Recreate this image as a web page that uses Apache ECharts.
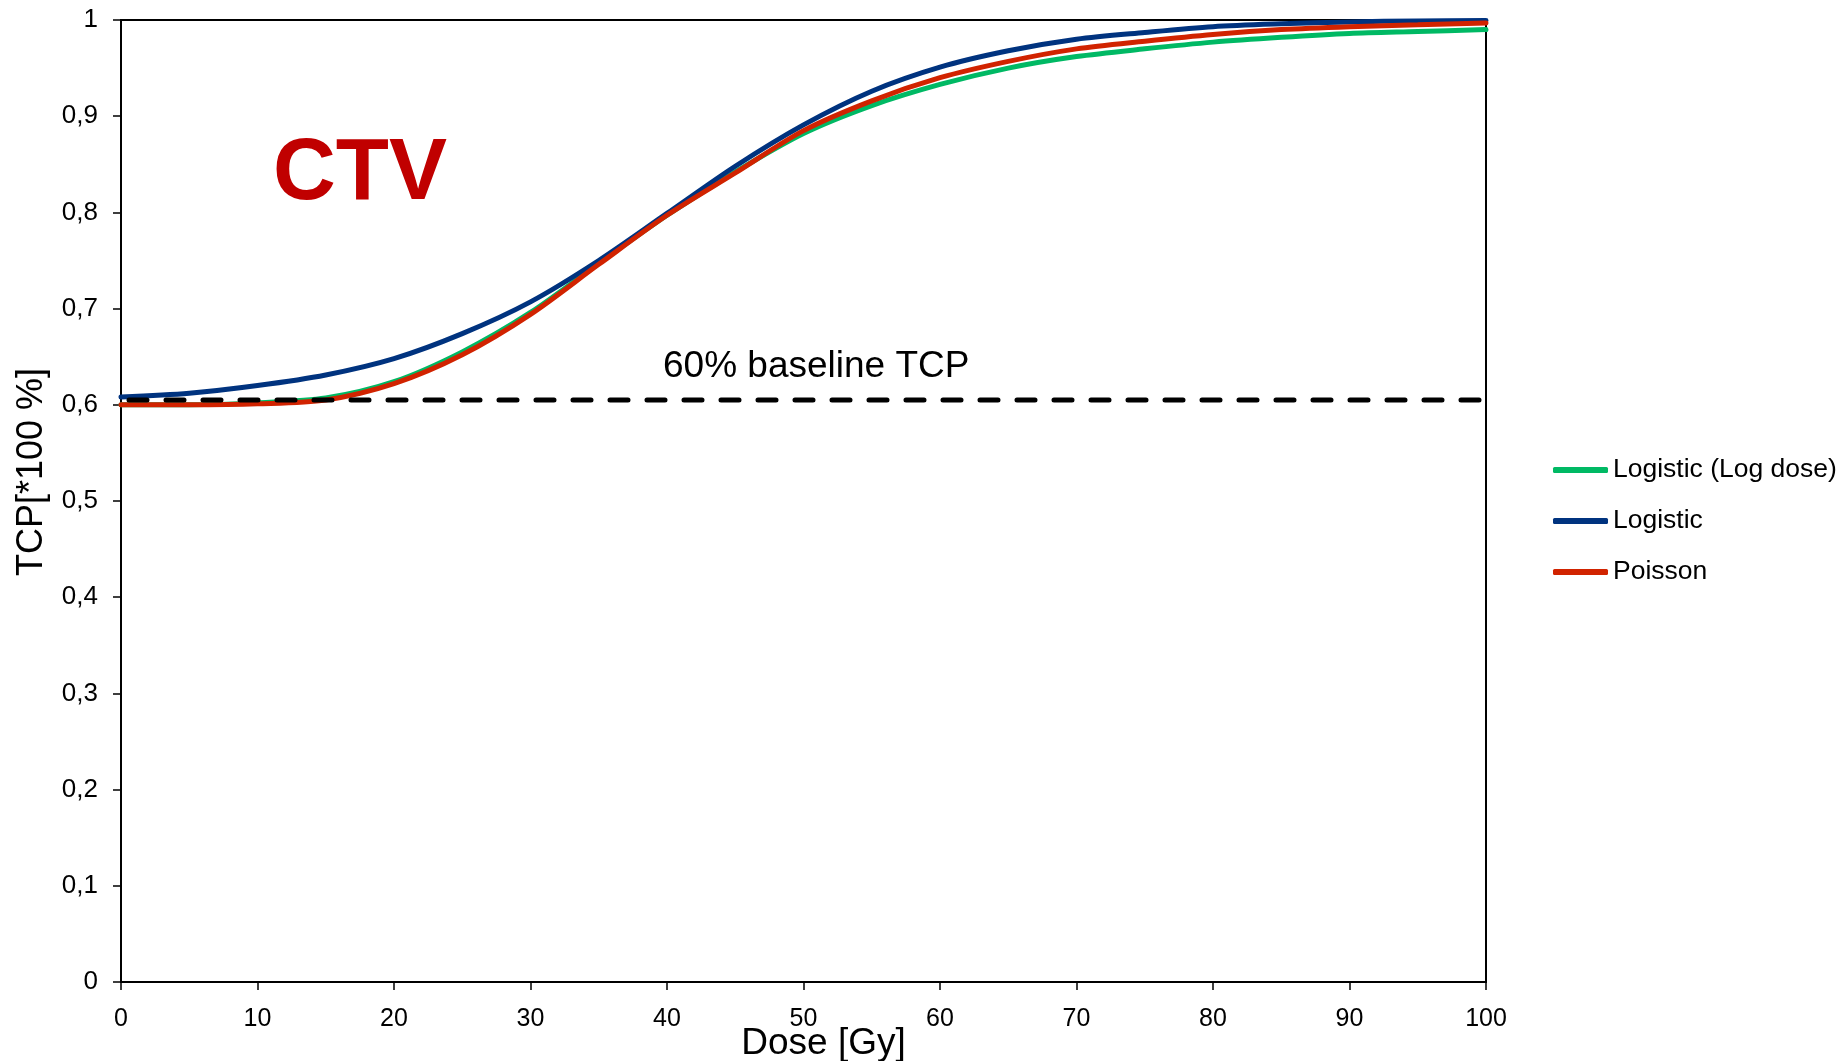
<!DOCTYPE html>
<html>
<head>
<meta charset="utf-8">
<script src="https://cdn.jsdelivr.net/npm/echarts@6/dist/echarts.min.js"></script>
<style>
html,body{margin:0;padding:0;background:#fff;}
#chart{width:1843px;height:1061px;}
</style>
</head>
<body>
<div id="chart"></div>
<script>
// Dose values (Gy)
var doses = [0,5,10,15,20,25,30,35,40,45,50,55,60,65,70,75,80,85,90,95,100];
// TCP values
var logisticLogDose = [0.600,0.600,0.602,0.607,0.624,0.655,0.696,0.747,0.797,0.842,0.882,0.911,0.933,0.950,0.962,0.970,0.977,0.982,0.986,0.988,0.990];
var logistic        = [0.608,0.612,0.620,0.631,0.648,0.674,0.707,0.750,0.799,0.848,0.891,0.926,0.951,0.968,0.980,0.987,0.993,0.996,0.998,0.999,0.9995];
var poisson         = [0.600,0.600,0.601,0.605,0.622,0.652,0.694,0.746,0.797,0.841,0.885,0.916,0.940,0.957,0.970,0.978,0.985,0.990,0.993,0.995,0.997];
var baselineX = [0, 100];
var baselineY = [0.605, 0.605];
var yTickLabels = ['0','0,1','0,2','0,3','0,4','0,5','0,6','0,7','0,8','0,9','1'];
var xTickLabels = ['0','10','20','30','40','50','60','70','80','90','100'];
var seriesNames = ['Logistic (Log dose)','Logistic','Poisson'];

function pairs(xs, ys){ return xs.map(function(x,i){ return [x, ys[i]]; }); }

var FONT = '"Liberation Sans", Arial, sans-serif';
var chart = echarts.init(document.getElementById('chart'), null, {renderer:'canvas'});

var lineW = 5;
function curve(name, data, color){
  return {
    name: name, type: 'line', data: pairs(doses, data),
    smooth: 0.3, symbol: 'none', showSymbol: false,
    lineStyle: {color: color, width: lineW, cap: 'round'},
    itemStyle: {color: color},
    animation: false
  };
}

chart.setOption({
  backgroundColor: '#ffffff',
  animation: false,
  grid: {left: 121, right: 357, top: 20, bottom: 79, containLabel: false, outerBoundsMode: 'none',
    show: true, borderColor: '#000', borderWidth: 2, backgroundColor: 'transparent'},
  legend: {
    data: seriesNames, orient: 'vertical', left: 1553, top: 455, padding: 0,
    icon: 'roundRect', itemWidth: 55, itemHeight: 6, itemGap: 21,
    textStyle: {fontFamily: FONT, fontSize: 26.5, color: '#000', lineHeight: 30},
    selectedMode: false
  },
  xAxis: {
    type: 'value', min: 0, max: 100, interval: 10,
    name: 'Dose [Gy]', nameLocation: 'middle', nameGap: 43, nameMoveOverlap: false,
    nameTextStyle: {fontFamily: FONT, fontSize: 37, color: '#000', padding: [0,0,0,40]},
    axisLine: {show: true, onZero: false, lineStyle: {color: '#000', width: 2}},
    axisTick: {show: true, inside: false, length: 8, lineStyle: {color: '#000', width: 1.5}},
    axisLabel: {fontFamily: FONT, fontSize: 25, color: '#000', margin: 25,
      formatter: function(v){ return xTickLabels[Math.round(v/10)]; }},
    splitLine: {show: false}
  },
  yAxis: {
    type: 'value', min: 0, max: 1, interval: 0.1,
    name: 'TCP[*100 %]', nameLocation: 'middle', nameGap: 71, nameRotate: 90,
    nameTextStyle: {fontFamily: FONT, fontSize: 36, color: '#000', padding: [0,0,0,58]},
    axisLine: {show: true, onZero: false, lineStyle: {color: '#000', width: 2}},
    axisTick: {show: true, inside: false, length: 8, lineStyle: {color: '#000', width: 1.5}},
    axisLabel: {fontFamily: FONT, fontSize: 26, color: '#000', margin: 23,
      formatter: function(v){ return yTickLabels[Math.round(v*10)]; }},
    splitLine: {show: false}
  },
  series: [
    curve(seriesNames[0], logisticLogDose, '#00b964'),
    curve(seriesNames[1], logistic, '#00337f'),
    curve(seriesNames[2], poisson, '#d12300'),
    {
      name: '60% baseline TCP', type: 'line', data: pairs(baselineX, baselineY),
      symbol: 'none', silent: true,
      lineStyle: {color: '#000', width: 5, type: [18, 19], cap: 'round', dashOffset: -8},
      z: 5, animation: false
    }
  ],
  graphic: [
    {type: 'text', left: 273, top: 132, style: {text: 'CTV', fontFamily: FONT, fontWeight: 'bold', fontSize: 87, fill: '#c00000'}},
    {type: 'text', left: 663, top: 348, style: {text: '60% baseline TCP', fontFamily: FONT, fontSize: 37, fill: '#000'}}
  ]
});
</script>
</body>
</html>
